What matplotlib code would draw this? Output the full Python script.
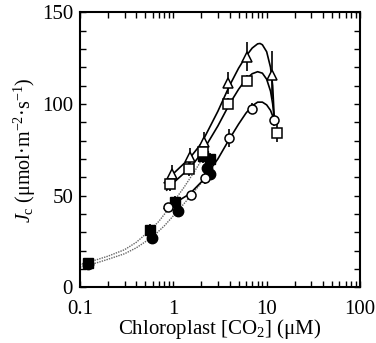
import matplotlib
matplotlib.use("Agg")
import matplotlib.pyplot as plt
from matplotlib.ticker import LogLocator, NullFormatter, MultipleLocator, FixedLocator, FixedFormatter

plt.rcParams['font.family'] = ['Liberation Serif', 'DejaVu Serif']
plt.rcParams['mathtext.fontset'] = 'custom'
plt.rcParams['mathtext.rm'] = 'Liberation Serif'
plt.rcParams['mathtext.it'] = 'Liberation Serif:italic'

# ---- data ----
tri_x = [0.96, 1.51, 2.13, 3.82, 6.15, 11.4]
tri_y = [61.8, 70.9, 79.5, 111.3, 125.8, 115.8]
tri_e = [5, 5, 5, 6, 8, 13]

sq_x = [0.93, 1.46, 2.1, 3.88, 6.2, 13.0]
sq_y = [56.4, 64.7, 74.0, 100.0, 112.7, 84.0]
sq_e = [4, 4, 4, 3, 3, 5]

ci_x = [0.88, 1.53, 2.18, 3.98, 7.0, 12.1]
ci_y = [44.0, 50.4, 59.5, 81.3, 97.3, 91.0]
ci_e = [2, 2, 3, 5, 3, 3]

fsq_x = [0.121, 0.56, 1.03, 2.1, 2.47]
fsq_y = [13.5, 31.3, 46.7, 71.8, 70.0]
fsq_e = [1, 3, 3, 4, 3]

fci_x = [0.121, 0.596, 1.11, 2.28, 2.5]
fci_y = [12.5, 27.0, 41.6, 65.0, 62.0]
fci_e = [1, 2, 2, 3, 3]

# fitted curves
tri_fit_x = [0.8, 1.0, 1.5, 2.0, 3.0, 4.0, 5.0, 6.0, 7.0, 8.0, 8.5, 9.0, 10.0, 11.0, 11.6, 12.1]
tri_fit_y = [57, 62, 70.5, 78.5, 96, 110, 119.5, 126, 130.5, 132.8, 133, 132.3, 128.5, 120, 110, 91]

sq_fit_x = [0.85, 1.0, 1.5, 2.0, 3.0, 4.0, 5.0, 6.0, 7.0, 8.0, 9.0, 10.0, 11.0, 11.6, 12.1]
sq_fit_y = [53, 57, 65, 73, 88, 100, 108, 113.5, 116.5, 117.6, 116.8, 113.5, 107, 100, 91]

ci_fit_x = [0.8, 1.0, 1.5, 2.0, 3.0, 4.0, 5.0, 6.0, 7.0, 8.0, 9.0, 10.0, 11.0, 12.1]
ci_fit_y = [43, 45.5, 51, 57.5, 70, 81, 89, 95, 99, 101, 101, 99.5, 96.5, 91]

dot_up_x = [0.1, 0.15, 0.2, 0.3, 0.4, 0.56, 0.7, 0.85, 1.0, 1.3, 1.7, 2.1]
dot_up_y = [12.5, 15.0, 17.0, 20.5, 24.5, 31.0, 36.0, 41.5, 46.5, 54.5, 63.5, 71.0]

dot_lo_x = [0.1, 0.15, 0.2, 0.3, 0.4, 0.6, 0.8, 1.0, 1.2, 1.6, 2.0, 2.5]
dot_lo_y = [11.0, 13.3, 15.3, 18.3, 21.5, 27.5, 33.5, 39.0, 43.5, 51.0, 57.0, 63.0]

fig = plt.figure(figsize=(3.76, 3.43), dpi=100)
ax = fig.add_axes([0.2128, 0.1624, 0.7446, 0.8017])

ax.plot(dot_up_x, dot_up_y, ls=(0, (1, 0.8)), color='#666666', lw=1.0)
ax.plot(dot_lo_x, dot_lo_y, ls=(0, (1, 0.8)), color='#666666', lw=1.0)
ax.plot(tri_fit_x, tri_fit_y, color='black', lw=1.2)
ax.plot(sq_fit_x, sq_fit_y, color='black', lw=1.2)
ax.plot(ci_fit_x, ci_fit_y, color='black', lw=1.2)

ek = dict(ls='none', ecolor='black', elinewidth=1.2, capsize=0)
ax.errorbar(fsq_x, fsq_y, yerr=fsq_e, marker='s', ms=7.5, mfc='black', mec='black', **ek)
ax.errorbar(fci_x, fci_y, yerr=fci_e, marker='o', ms=7.5, mfc='black', mec='black', **ek)
ax.errorbar(tri_x, tri_y, yerr=tri_e, marker='^', ms=7.5, mfc='white', mec='black', mew=1.1, **ek)
ax.errorbar(sq_x, sq_y, yerr=sq_e, marker='s', ms=6.5, mfc='white', mec='black', mew=1.1, **ek)
ax.errorbar(ci_x, ci_y, yerr=ci_e, marker='o', ms=6.5, mfc='white', mec='black', mew=1.1, **ek)

ax.set_xscale('log')
ax.set_xlim(0.1, 100)
ax.set_ylim(0, 150)

xticks = [0.1, 1, 10, 100]
xlabels = ['0.1', '1', '10', '100']
ax.xaxis.set_major_locator(FixedLocator(xticks))
ax.xaxis.set_major_formatter(FixedFormatter(xlabels))
ax.xaxis.set_minor_locator(LogLocator(base=10, subs=range(2, 10), numticks=20))
ax.xaxis.set_minor_formatter(NullFormatter())
ax.yaxis.set_major_locator(MultipleLocator(50))
ax.yaxis.set_minor_locator(MultipleLocator(10))

for s in ax.spines.values():
    s.set_linewidth(1.5)
ax.tick_params(which='both', direction='in', top=True, right=True, width=1.0, length=4)
ax.tick_params(which='major', labelsize=15)
ax.tick_params(axis='x', which='major', pad=9)
ax.tick_params(axis='y', which='major', pad=5)

ax.set_xlabel('Chloroplast [CO$_2$] (\u03bcM)', fontsize=15, labelpad=-1)
ax.set_ylabel('$J_{\\rm c}$ (\u03bcmol\u00b7m$^{-2}$\u00b7s$^{-1}$)', fontsize=14.5, labelpad=3)

fig.savefig('out.png', dpi=100)
